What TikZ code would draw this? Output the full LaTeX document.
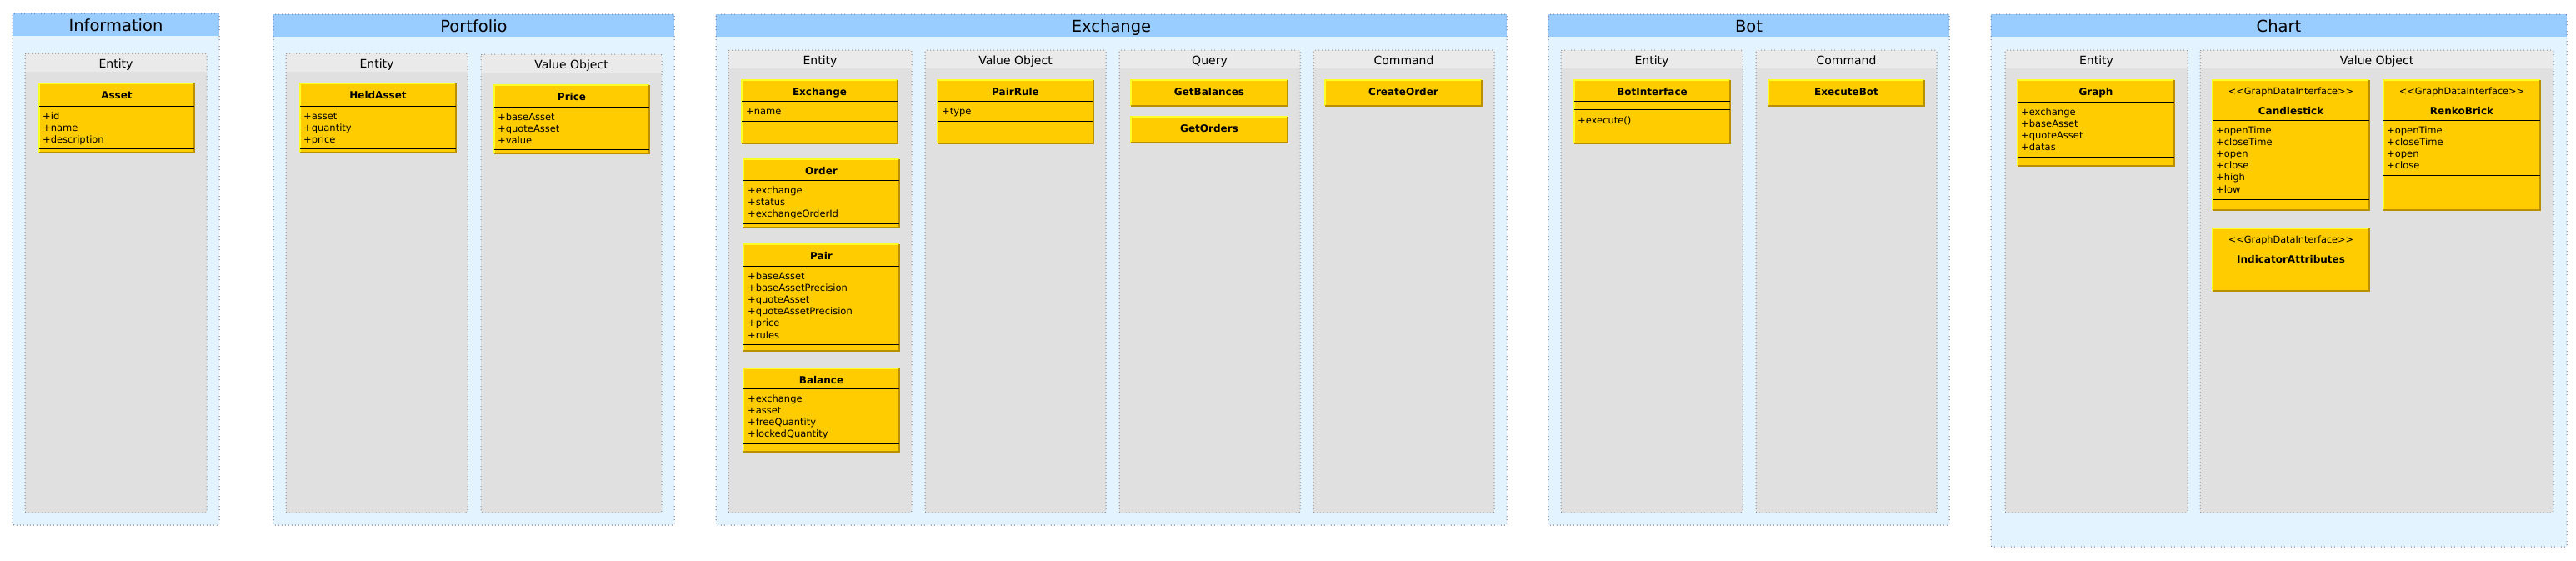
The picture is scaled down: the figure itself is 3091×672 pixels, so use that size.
\documentclass[tikz,border=0pt]{standalone}
\usepackage{fontspec}
\setmainfont{DejaVu Sans}
\definecolor{pkgheadc}{RGB}{153,204,255}
\definecolor{pkgbodyc}{RGB}{227,243,255}
\definecolor{subheadc}{RGB}{234,234,234}
\definecolor{subbodyc}{RGB}{224,224,224}
\definecolor{clsfillc}{RGB}{255,204,0}
\definecolor{clshic}{RGB}{255,255,40}
\definecolor{clsloc}{RGB}{185,145,0}
\definecolor{pkglinec}{RGB}{110,115,160}
\definecolor{sublinec}{RGB}{145,145,150}
\newcommand{\fpkg}{\fontsize{19.5}{22}\selectfont}
\newcommand{\fsub}{\fontsize{14}{16}\selectfont}
\newcommand{\fcls}{\fontsize{12}{14}\selectfont\bfseries}
\newcommand{\fattr}{\fontsize{11.5}{14}\selectfont}
\newcommand{\fster}{\fontsize{11.3}{13}\selectfont}
\tikzset{
  pkgline/.style={draw=pkglinec, line width=1pt, dash pattern=on 1pt off 3pt},
  subline/.style={draw=sublinec, line width=1pt, dash pattern=on 1pt off 3pt},
  clshi/.style={draw=clshic, line width=1.2pt},
  clslo/.style={draw=clsloc, line width=1.2pt},
  divline/.style={draw=black, line width=0.9pt},
  pkgtitle/.style={inner sep=0pt, anchor=base, font=\fpkg},
  subtitle/.style={inner sep=0pt, anchor=base, font=\fsub},
  clsname/.style={inner sep=0pt, anchor=base, font=\fcls},
  stereo/.style={inner sep=0pt, anchor=base, font=\fster},
  attr/.style={inner sep=0pt, anchor=base west, font=\fattr},
}
\newcommand{\pkgbox}[6]{%
  \fill[pkgbodyc, rounded corners=2pt] (#2,#3) rectangle (#4,#5);
  \fill[pkgheadc] (#2,#3) rectangle (#4,#3+27);
  \draw[pkgline, rounded corners=2pt] (#2,#3) rectangle (#4,#5);
  \node[pkgtitle] (#1) at ({(#2+#4)/2},#3+21.5) {#6};}
\newcommand{\subbox}[6]{%
  \fill[subbodyc, rounded corners=2pt] (#2,#3) rectangle (#4,#5);
  \fill[subheadc] (#2,#3) rectangle (#4,#3+21.5);
  \draw[subline, rounded corners=2pt] (#2,#3) rectangle (#4,#5);
  \node[subtitle] (#1) at ({(#2+#4)/2},#3+17) {#6};}
\newcommand{\clsbox}[4]{%
  \fill[clsfillc] (#1,#2) rectangle (#3,#4);
  \draw[clshi] (#1,#4) -- (#1,#2) -- (#3,#2);
  \draw[clslo] (#3,#2) -- (#3,#4) -- (#1,#4);}
\newcommand{\clsdiv}[3]{\draw[divline] (#1,#3) -- (#2,#3);}
\newcommand{\attrs}[4]{%
  \foreach \t [count=\i] in {#4}
    \node[attr] (#1-\i) at (#2,{#3+(\i-1)*14.2}) {\t};}
\begin{document}
\begin{tikzpicture}[x=1pt,y=-1pt]
\useasboundingbox (0,0) rectangle (3091,672);
% ---------------- Information
\pkgbox{information}{15}{16}{263}{630}{Information}
\subbox{infoentity}{30}{64}{248}{615}{Entity}
\clsbox{47}{100}{233}{183}
\node[clsname] (asset) at (140,118.5) {Asset};
\clsdiv{47}{233}{127}
\attrs{asset}{51}{143}{+id,+name,+description}
\clsdiv{47}{233}{178}
% ---------------- Portfolio
\pkgbox{portfolio}{328}{17}{809}{630}{Portfolio}
\subbox{portentity}{343}{64}{561}{615}{Entity}
\clsbox{360}{100}{547}{183}
\node[clsname] (heldasset) at (453.5,118.5) {HeldAsset};
\clsdiv{360}{547}{127}
\attrs{heldasset}{364}{143}{+asset,+quantity,+price}
\clsdiv{360}{547}{178}
\subbox{portvo}{577}{65}{794}{615}{Value Object}
\clsbox{593}{102}{779}{184}
\node[clsname] (price) at (686,120.5) {Price};
\clsdiv{593}{779}{128}
\attrs{price}{597}{144}{+baseAsset,+quoteAsset,+value}
\clsdiv{593}{779}{179}
% ---------------- Exchange
\pkgbox{exchangepkg}{859}{17}{1808}{630}{Exchange}
\subbox{exentity}{874}{60}{1094}{615}{Entity}
\clsbox{890}{96}{1077}{172}
\node[clsname] (exchange) at (983.5,114.5) {Exchange};
\clsdiv{890}{1077}{121}
\attrs{exchange}{895}{137}{+name}
\clsdiv{890}{1077}{145}
\clsbox{892}{191}{1079}{273}
\node[clsname] (order) at (985.5,209.5) {Order};
\clsdiv{892}{1079}{216}
\attrs{order}{897}{232}{+exchange,+status,+exchangeOrderId}
\clsdiv{892}{1079}{268}
\clsbox{892}{293}{1079}{421}
\node[clsname] (pair) at (985.5,311.5) {Pair};
\clsdiv{892}{1079}{319}
\attrs{pair}{897}{335}{+baseAsset,+baseAssetPrecision,+quoteAsset,+quoteAssetPrecision,+price,+rules}
\clsdiv{892}{1079}{413}
\clsbox{892}{442}{1079}{542}
\node[clsname] (balance) at (985.5,460.5) {Balance};
\clsdiv{892}{1079}{466}
\attrs{balance}{897}{482}{+exchange,+asset,+freeQuantity,+lockedQuantity}
\clsdiv{892}{1079}{532}
\subbox{exvo}{1110}{60}{1327}{615}{Value Object}
\clsbox{1125}{96}{1312}{172}
\node[clsname] (pairrule) at (1218.5,114.5) {PairRule};
\clsdiv{1125}{1312}{121}
\attrs{pairrule}{1130}{137}{+type}
\clsdiv{1125}{1312}{145}
\subbox{exquery}{1343}{60}{1560}{615}{Query}
\clsbox{1357}{96}{1545}{127}
\node[clsname] (getbalances) at (1451,114.5) {GetBalances};
\clsbox{1357}{140}{1545}{171}
\node[clsname] (getorders) at (1451,158.5) {GetOrders};
\subbox{excommand}{1576}{60}{1793}{615}{Command}
\clsbox{1590}{96}{1778}{127}
\node[clsname] (createorder) at (1684,114.5) {CreateOrder};
% ---------------- Bot
\pkgbox{botpkg}{1858}{17}{2339}{630}{Bot}
\subbox{botentity}{1873}{60}{2091}{615}{Entity}
\clsbox{1889}{96}{2076}{172}
\node[clsname] (botinterface) at (1982.5,114.5) {BotInterface};
\clsdiv{1889}{2076}{121}
\clsdiv{1889}{2076}{131}
\attrs{botinterface}{1893}{148}{+execute()}
\subbox{botcommand}{2107}{60}{2324}{615}{Command}
\clsbox{2122}{96}{2309}{127}
\node[clsname] (executebot) at (2215.5,114.5) {ExecuteBot};
% ---------------- Chart
\pkgbox{chartpkg}{2389}{17}{3080}{656}{Chart}
\subbox{chartentity}{2406}{60}{2625}{615}{Entity}
\clsbox{2421}{96}{2609}{199}
\node[clsname] (graph) at (2515,114.5) {Graph};
\clsdiv{2421}{2609}{122}
\attrs{graph}{2425}{138}{+exchange,+baseAsset,+quoteAsset,+datas}
\clsdiv{2421}{2609}{188}
\subbox{chartvo}{2640}{60}{3064}{615}{Value Object}
\clsbox{2655}{96}{2843}{252}
\node[stereo] (candlestick-st) at (2749,113) {<{}<GraphDataInterface>{}>};
\node[clsname] (candlestick) at (2749,137.5) {Candlestick};
\clsdiv{2655}{2843}{144}
\attrs{candlestick}{2659}{160}{+openTime,+closeTime,+open,+close,+high,+low}
\clsdiv{2655}{2843}{239}
\clsbox{2860}{96}{3048}{252}
\node[stereo] (renkobrick-st) at (2954,113) {<{}<GraphDataInterface>{}>};
\node[clsname] (renkobrick) at (2954,137.5) {RenkoBrick};
\clsdiv{2860}{3048}{144}
\attrs{renkobrick}{2864}{160}{+openTime,+closeTime,+open,+close}
\clsdiv{2860}{3048}{210}
\clsbox{2655}{274}{2843}{349}
\node[stereo] (indicator-st) at (2749,291) {<{}<GraphDataInterface>{}>};
\node[clsname] (indicatorattributes) at (2749,315) {IndicatorAttributes};
\end{tikzpicture}
\end{document}
